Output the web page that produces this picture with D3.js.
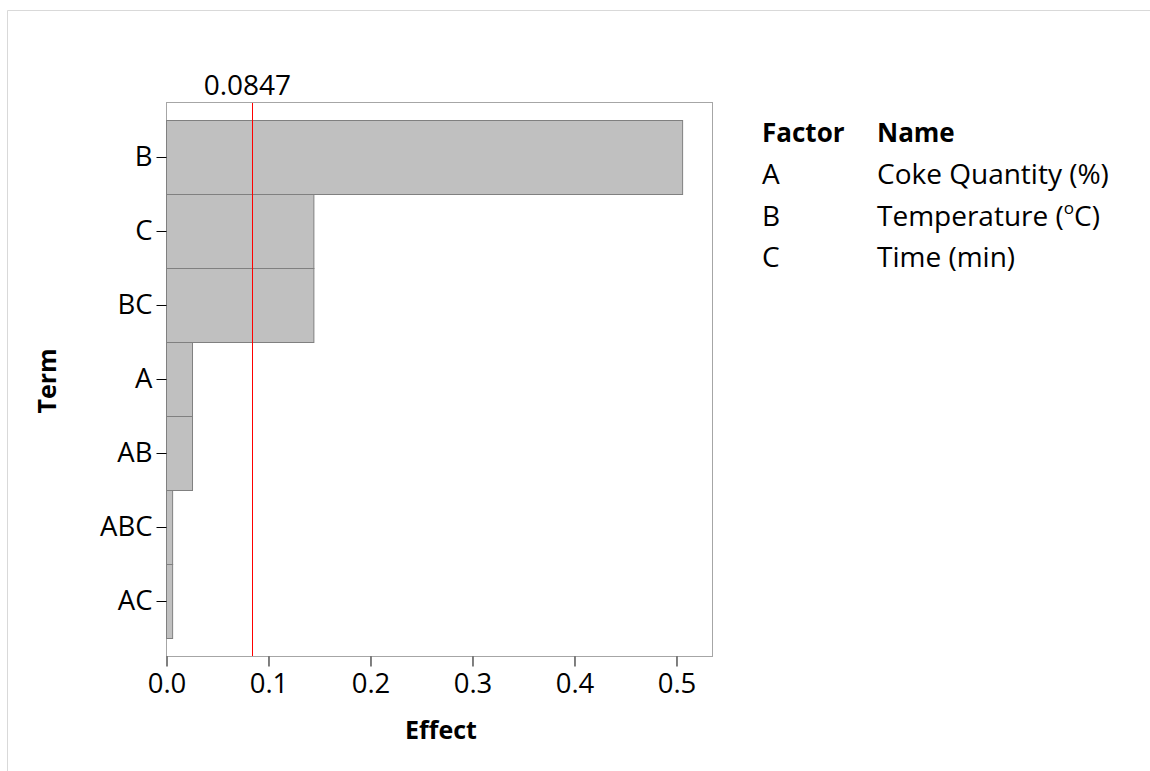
<!DOCTYPE html>
<html>
<head>
<meta charset="utf-8">
<script src="https://cdn.jsdelivr.net/npm/d3@7"></script>
<style>
  html, body { margin: 0; padding: 0; background: #fff; }
  svg text { font-family: "Open Sans", "DejaVu Sans", sans-serif; fill: #000; }
</style>
</head>
<body>
<svg id="chart" width="1150" height="771"></svg>
<script>
// Pareto chart of standardized effects
const terms = ["B", "C", "BC", "A", "AB", "ABC", "AC"];
const effects = [0.506, 0.1445, 0.1445, 0.0255, 0.0255, 0.006, 0.006];
const threshold = 0.0847;
const xTicks = [0.0, 0.1, 0.2, 0.3, 0.4, 0.5];
const xMax = 0.5353;

const factorCodes = ["A", "B", "C"];
const factorNames = ["Coke Quantity (%)", "Temperature (\u00B0C)", "Time (min)"];

const svg = d3.select("#chart");

// outer frame
svg.append("path")
  .attr("d", "M7.5,800 V10.5 H1200")
  .attr("fill", "none")
  .attr("stroke", "#d9d9d9")
  .attr("stroke-width", 1);

const plot = { left: 166, right: 712, top: 102, bottom: 656 };

const x = d3.scaleLinear().domain([0, xMax]).range([plot.left, plot.right]);
const y = d3.scaleBand().domain(terms).range([plot.top, plot.bottom])
  .paddingInner(0).paddingOuter(0.243);

// plot frame
svg.append("rect")
  .attr("x", plot.left + 0.5).attr("y", plot.top + 0.5)
  .attr("width", plot.right - plot.left).attr("height", plot.bottom - plot.top)
  .attr("fill", "#fff").attr("stroke", "#a6a6a6").attr("stroke-width", 1);

// bars
svg.append("g").selectAll("rect")
  .data(terms.map((t, i) => ({ term: t, value: effects[i] })))
  .join("rect")
  .attr("x", x(0) + 0.5)
  .attr("y", d => Math.round(y(d.term)) + 0.5)
  .attr("width", d => x(d.value) - x(0))
  .attr("height", y.bandwidth())
  .attr("fill", "#c0c0c0")
  .attr("stroke", "#808080")
  .attr("stroke-width", 1);

// reference line
const xr = Math.round(x(threshold)) + 0.5;
svg.append("line")
  .attr("x1", xr).attr("x2", xr)
  .attr("y1", plot.top + 1).attr("y2", plot.bottom)
  .attr("stroke", "#ff0000").attr("stroke-width", 1);
svg.append("text")
  .attr("x", x(threshold) - 5).attr("y", 95)
  .attr("text-anchor", "middle")
  .attr("font-size", 28)
  .text(threshold.toFixed(4));

// x axis
const xAxis = svg.append("g")
  .attr("transform", `translate(0.5,${plot.bottom + 0.5})`)
  .call(d3.axisBottom(x).tickValues(xTicks).tickFormat(d3.format(".1f"))
    .tickSize(10).tickPadding(7));
xAxis.select(".domain").remove();
xAxis.selectAll("line").attr("stroke", "#000");
xAxis.selectAll("text").attr("font-size", 27.5).attr("font-family", "Open Sans");

// y axis
const yAxis = svg.append("g")
  .attr("transform", `translate(${plot.left + 0.5},0.5)`)
  .call(d3.axisLeft(y).tickSize(10).tickPadding(4));
yAxis.select(".domain").remove();
yAxis.selectAll("line").attr("stroke", "#000");
yAxis.selectAll("text").attr("font-size", 27.5).attr("font-family", "Open Sans");

// axis titles
svg.append("text")
  .attr("x", (plot.left + plot.right) / 2 + 2).attr("y", 739)
  .attr("text-anchor", "middle").attr("font-size", 25).attr("font-weight", "bold")
  .text("Effect");
svg.append("text")
  .attr("transform", `translate(56,${(plot.top + plot.bottom) / 2 + 2}) rotate(-90)`)
  .attr("text-anchor", "middle").attr("font-size", 25).attr("font-weight", "bold")
  .text("Term");

// factor legend
const legend = svg.append("g").attr("font-size", 28);
legend.append("text").attr("x", 762).attr("y", 142)
  .attr("font-size", 26).attr("font-weight", "bold").text("Factor");
legend.append("text").attr("x", 877).attr("y", 142)
  .attr("font-size", 26).attr("font-weight", "bold").text("Name");
factorCodes.forEach((code, i) => {
  const yy = 184 + i * 41.5;
  legend.append("text").attr("x", 762).attr("y", yy).text(code);
  const t = legend.append("text").attr("x", 877).attr("y", yy);
  const name = factorNames[i];
  const deg = name.indexOf("\u00B0");
  if (deg >= 0) {
    t.append("tspan").text(name.slice(0, deg));
    t.append("tspan").attr("font-size", 17).attr("dy", -12).text("o");
    t.append("tspan").attr("dy", 12).text(name.slice(deg + 1));
  } else {
    t.text(name);
  }
});
</script>
</body>
</html>
